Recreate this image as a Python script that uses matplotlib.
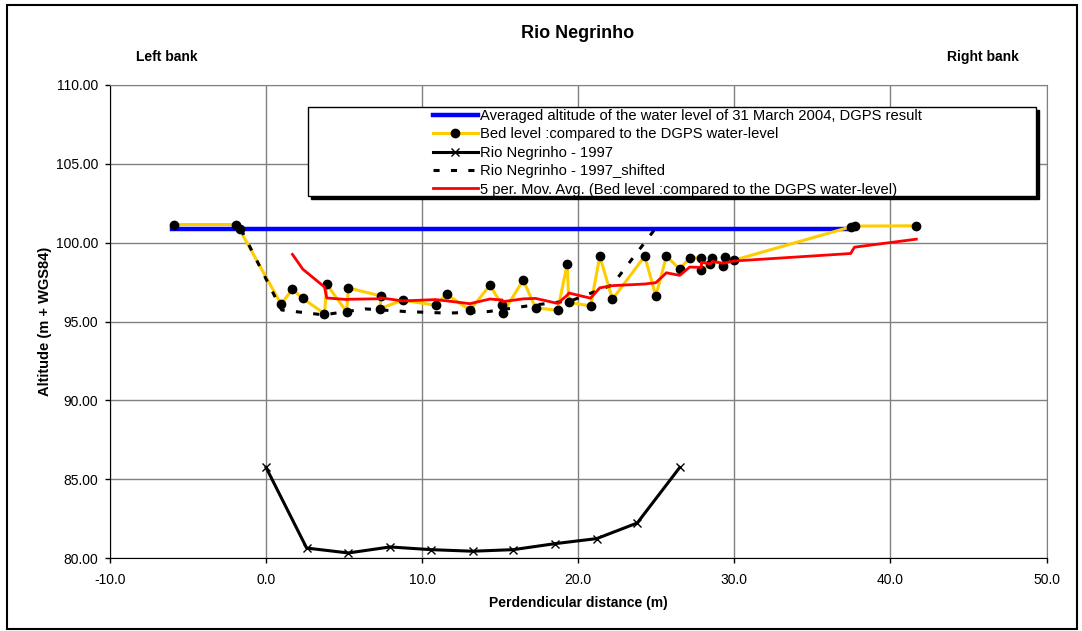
import numpy as np
import matplotlib
matplotlib.use("Agg")
import matplotlib.pyplot as plt
import pandas as pd
from matplotlib.patches import Rectangle
from matplotlib.lines import Line2D

plt.rcParams["font.family"] = ["Liberation Sans", "DejaVu Sans"]

# bed level compared to the DGPS water level (survey order)
bed_x = [-5.93, -1.92, -1.70, 0.96, 1.69, 2.35, 3.74, 3.89, 5.16, 5.27,
         7.36, 7.30, 8.75, 10.86, 11.56, 13.06, 14.34, 15.13, 15.15, 16.47,
         17.27, 18.68, 19.29, 19.40, 20.79, 21.38, 22.19, 24.26, 24.97, 25.65,
         26.50, 27.14, 27.89, 27.89, 28.47, 28.59, 29.27, 29.38, 29.98, 37.45,
         37.70, 41.66]
bed_y = [101.15, 101.15, 100.84, 96.10, 97.05, 96.46, 95.50, 97.35, 95.61, 97.13,
         96.62, 95.82, 96.35, 96.03, 96.73, 95.72, 97.30, 96.03, 95.51, 97.62,
         95.86, 95.72, 98.62, 96.21, 95.99, 99.14, 96.41, 99.14, 96.62, 99.14,
         98.32, 99.04, 99.04, 98.26, 98.62, 99.04, 98.53, 99.10, 98.89, 101.00,
         101.05, 101.07]

# averaged DGPS water level
water_x = [-6.0, 37.5]
water_y = [100.84, 100.84]

# 1997 cross-section
rn97_x = [0.0, 2.6, 5.27, 7.94, 10.56, 13.23, 15.84, 18.51, 21.18, 23.78, 26.5]
rn97_y = [85.74, 80.63, 80.32, 80.70, 80.53, 80.43, 80.53, 80.91, 81.23, 82.22, 85.74]

# 1997 section shifted onto the 2004 water level
shift_dx = -1.6
shift_dy = 15.1

W, H = 1082, 631
fig = plt.figure(figsize=(W / 100, H / 100), dpi=100)
fig.patch.set_facecolor("white")

# outer chart frame
fig.add_artist(Rectangle((7 / W, 1 - 629 / H), 1070 / W, 624 / H,
                         transform=fig.transFigure, fill=False,
                         edgecolor="black", linewidth=1.5))

ax = fig.add_axes([110 / W, 1 - 558 / H, 936.5 / W, 473 / H])
ax.set_xlim(-10, 50)
ax.set_ylim(80, 110)
ax.set_xticks(np.arange(-10, 51, 10))
ax.set_yticks(np.arange(80, 111, 5))
ax.set_xticklabels([f"{v:.1f}" for v in np.arange(-10, 51, 10)])
ax.set_yticklabels([f"{v:.2f}" for v in np.arange(80, 111, 5)])
ax.grid(True, color="#808080", linewidth=1.0)
ax.set_axisbelow(True)
for side in ["top", "right"]:
    ax.spines[side].set_color("#808080")
for side in ["left", "bottom"]:
    ax.spines[side].set_color("black")
ax.tick_params(direction="out", length=3.6, width=1, labelsize=10, pad=5)
ax.tick_params(axis="x", pad=7.5)

dash = (0, (2, 3.7))
ax.plot(water_x, water_y, color="#0000FF", linewidth=3.2, zorder=3)
ax.plot(bed_x, bed_y, color="#FFCC00", linewidth=2.2, marker="o",
        markersize=6, markerfacecolor="black", markeredgecolor="black", zorder=4)
ax.plot(rn97_x, rn97_y, color="black", linewidth=2.2, marker="x",
        markersize=6, markeredgewidth=1.0, zorder=4)
ax.plot(np.array(rn97_x) + shift_dx, np.array(rn97_y) + shift_dy, color="black",
        linewidth=2.2, linestyle=dash, zorder=4)
mov = pd.Series(bed_y).rolling(5).mean()
ax.plot(bed_x, mov, color="#FF0000", linewidth=2.0, zorder=5)

ax.set_xlabel("Perdendicular distance (m)", fontsize=10, fontweight="bold", labelpad=6)
ax.set_ylabel("Altitude (m + WGS84)", fontsize=10.5, fontweight="bold", labelpad=3)

fig.text(578 / W, 1 - 33 / H, "Rio Negrinho", fontsize=13, fontweight="bold",
         ha="center", va="center")
fig.text(167 / W, 1 - 57 / H, "Left bank", fontsize=10, fontweight="bold",
         ha="center", va="center")
fig.text(983 / W, 1 - 57 / H, "Right bank", fontsize=10, fontweight="bold",
         ha="center", va="center")

# legend box with shadow
fig.add_artist(Rectangle((311 / W, 1 - 199 / H), 728 / W, 89 / H,
                         transform=fig.transFigure, facecolor="black",
                         edgecolor="black", zorder=10))
fig.add_artist(Rectangle((308 / W, 1 - 196 / H), 728 / W, 89 / H,
                         transform=fig.transFigure, facecolor="white",
                         edgecolor="black", linewidth=1.0, zorder=11))

handles = [
    Line2D([], [], color="#0000FF", linewidth=3.2),
    Line2D([], [], color="#FFCC00", linewidth=2.2, marker="o", markersize=6,
           markerfacecolor="black", markeredgecolor="black"),
    Line2D([], [], color="black", linewidth=2.2, marker="x", markersize=6,
           markeredgewidth=1.0),
    Line2D([], [], color="black", linewidth=2.2, linestyle=dash),
    Line2D([], [], color="#FF0000", linewidth=2.0),
]
labels = [
    "Averaged altitude of the water level of 31 March 2004, DGPS result",
    "Bed level :compared to the DGPS water-level",
    "Rio Negrinho - 1997",
    "Rio Negrinho - 1997_shifted",
    "5 per. Mov. Avg. (Bed level :compared to the DGPS water-level)",
]
leg = fig.legend(handles, labels, loc="upper left",
                 bbox_to_anchor=(430 / W, 1 - 106 / H), frameon=False,
                 fontsize=10.6, handlelength=3.05, handletextpad=0.15,
                 labelspacing=0.3, borderpad=0.2, borderaxespad=0)
leg.set_zorder(12)

fig.savefig("out.png", dpi=100)
